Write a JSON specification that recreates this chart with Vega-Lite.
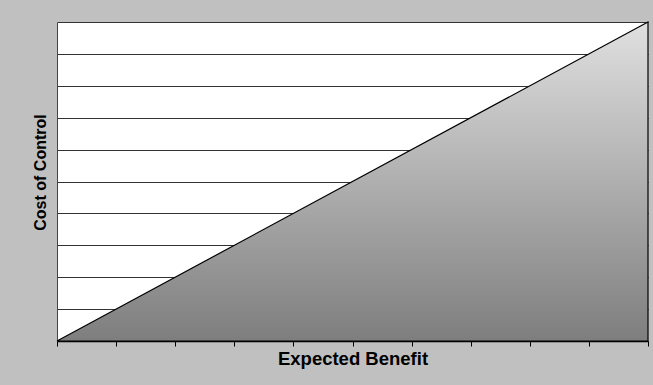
{
  "$schema": "https://vega.github.io/schema/vega-lite/v6.json",
  "width": 591,
  "height": 319,
  "autosize": {"type": "none"},
  "padding": {"left": 57, "top": 22, "right": 5, "bottom": 44},
  "background": "#c0c0c0",
  "config": {"view": {"fill": "white", "stroke": null}, "font": "Liberation Sans"},
  "data": {"values": [{"benefit": 0, "cost": 0}, {"benefit": 10, "cost": 10}]},
  "mark": {
    "type": "area",
    "stroke": "black",
    "strokeWidth": 1.2,
    "fillOpacity": 1,
    "color": {
      "gradient": "linear",
      "x1": 0, "y1": 0, "x2": 0, "y2": 1,
      "stops": [
        {"offset": 0, "color": "#e0e0e0"},
        {"offset": 1, "color": "#7e7e7e"}
      ]
    }
  },
  "encoding": {
    "x": {
      "field": "benefit",
      "type": "quantitative",
      "scale": {"domain": [0, 10], "nice": false},
      "axis": {
        "title": "Expected Benefit",
        "labels": false,
        "values": [0, 1, 2, 3, 4, 5, 6, 7, 8, 9, 10],
        "tickSize": 5,
        "tickColor": "black",
        "domainColor": "black",
        "domainWidth": 1.5,
        "grid": false,
        "titleFontSize": 18.5,
        "titleFontWeight": "bold",
        "titleColor": "black",
        "titlePadding": 3
      }
    },
    "y": {
      "field": "cost",
      "type": "quantitative",
      "scale": {"domain": [0, 10], "nice": false},
      "axis": {
        "title": "Cost of Control",
        "labels": false,
        "ticks": false,
        "values": [0, 1, 2, 3, 4, 5, 6, 7, 8, 9, 10],
        "grid": true,
        "gridColor": "#333333",
        "gridOpacity": 1,
        "gridWidth": 1,
        "domainColor": "#444444",
        "titleFontSize": 16,
        "titleFontWeight": "bold",
        "titleColor": "black",
        "titlePadding": 9,
        "titleY": 150
      }
    }
  }
}
